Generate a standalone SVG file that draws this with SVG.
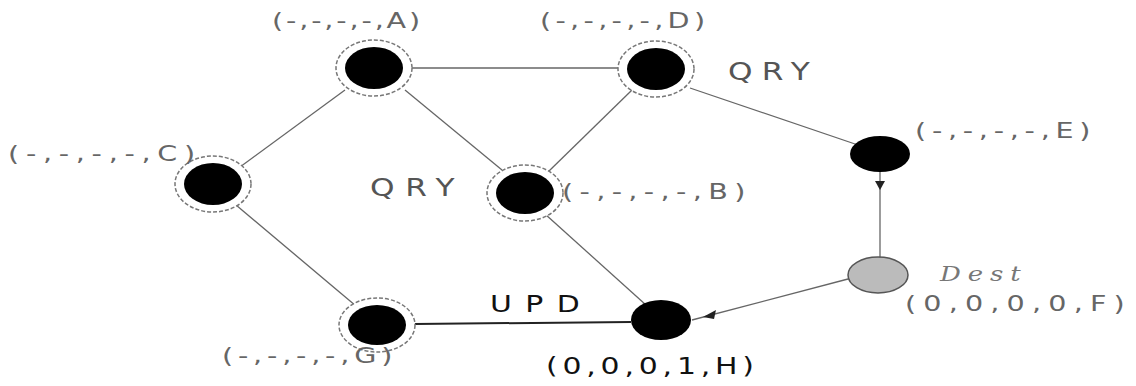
<svg xmlns="http://www.w3.org/2000/svg" width="1136" height="386" viewBox="0 0 1136 386">
<defs>
<style>
.ring{fill:#fff;stroke:#777;stroke-width:1.5;stroke-dasharray:4 2}
.core{fill:#000}
.edge{stroke:#666;stroke-width:1.3;fill:none}
.lbl{font-family:"DejaVu Sans",sans-serif;font-size:22px;fill:#666}
.qry{font-family:"DejaVu Sans",sans-serif;font-size:24px;fill:#555}
.dark{font-family:"DejaVu Sans",sans-serif;font-size:23px;fill:#111}
</style>
</defs>
<rect width="1136" height="386" fill="#fff"/>
<g id="connectors">
<line class="edge" x1="412" y1="68" x2="618" y2="68"/>
<line class="edge" x1="345" y1="90" x2="240" y2="167"/>
<line class="edge" x1="405" y1="90" x2="502" y2="170"/>
<line class="edge" x1="632" y1="90" x2="548" y2="172"/>
<line class="edge" x1="690" y1="88" x2="858" y2="145"/>
<line class="edge" x1="236" y1="205" x2="356" y2="306"/>
<line class="edge" x1="545" y1="214" x2="646" y2="305"/>
<line x1="415" y1="324" x2="631" y2="322" stroke="#222" stroke-width="2"/>
<line class="edge" x1="880" y1="172" x2="880" y2="258"/>
<polygon points="875,181 885,181 880,190" fill="#222"/>
<line class="edge" x1="848" y1="279" x2="692" y2="320"/>
<polygon points="703,317 716,310 714,319" fill="#222"/>
</g>
<g id="node-A"><ellipse class="ring" cx="374" cy="68" rx="38" ry="28"/><ellipse class="core" cx="374" cy="68" rx="29" ry="21"/></g>
<g id="node-D"><ellipse class="ring" cx="656" cy="69" rx="38" ry="28"/><ellipse class="core" cx="656" cy="69" rx="29" ry="21"/></g>
<g id="node-C"><ellipse class="ring" cx="213" cy="184" rx="38" ry="28"/><ellipse class="core" cx="213" cy="184" rx="29" ry="21"/></g>
<g id="node-B"><ellipse class="ring" cx="525" cy="193" rx="38" ry="28"/><ellipse class="core" cx="525" cy="193" rx="29" ry="21"/></g>
<g id="node-G"><ellipse class="ring" cx="377" cy="325" rx="38" ry="27"/><ellipse class="core" cx="377" cy="325" rx="29" ry="20"/></g>
<g id="node-E"><ellipse class="core" cx="880" cy="154" rx="30" ry="18"/></g>
<g id="node-H"><ellipse class="core" cx="661" cy="320" rx="30" ry="20"/></g>
<g id="node-F"><ellipse cx="878" cy="275" rx="30" ry="18" fill="#bbb" stroke="#555" stroke-width="1.5"/></g>
<g id="labels">
<text class="lbl" transform="translate(272 28) scale(1.3 1)" textLength="114" lengthAdjust="spacing">(-,-,-,-,A)</text>
<text class="lbl" transform="translate(540 28) scale(1.3 1)" textLength="127" lengthAdjust="spacing">(-,-,-,-,D)</text>
<text class="qry" transform="translate(728 80) scale(1.3 1)" textLength="63" lengthAdjust="spacing">QRY</text>
<text class="lbl" transform="translate(915 138) scale(1.3 1)" textLength="135" lengthAdjust="spacing">(-,-,-,-,E)</text>
<text class="lbl" transform="translate(8 161) scale(1.3 1)" textLength="144" lengthAdjust="spacing">(-,-,-,-,C)</text>
<text class="qry" transform="translate(370 196) scale(1.3 1)" textLength="65" lengthAdjust="spacing">QRY</text>
<text class="lbl" transform="translate(562 199) scale(1.3 1)" textLength="141" lengthAdjust="spacing">(-,-,-,-,B)</text>
<text class="dark" transform="translate(490 312) scale(1.3 1)" textLength="69" lengthAdjust="spacing">UPD</text>
<text class="dark" transform="translate(546 374) scale(1.3 1)" textLength="160" lengthAdjust="spacing">(0,0,0,1,H)</text>
<text transform="translate(940 281) scale(1.3 1)" font-family="DejaVu Serif,serif" font-style="italic" font-size="20" fill="#777" textLength="62" lengthAdjust="spacing">Dest</text>
<text class="lbl" transform="translate(905 311) scale(1.3 1)" textLength="169" lengthAdjust="spacing">(0,0,0,0,F)</text>
<text class="lbl" transform="translate(222 363) scale(1.3 1)" textLength="131" lengthAdjust="spacing">(-,-,-,-,G)</text>
</g>
</svg>
